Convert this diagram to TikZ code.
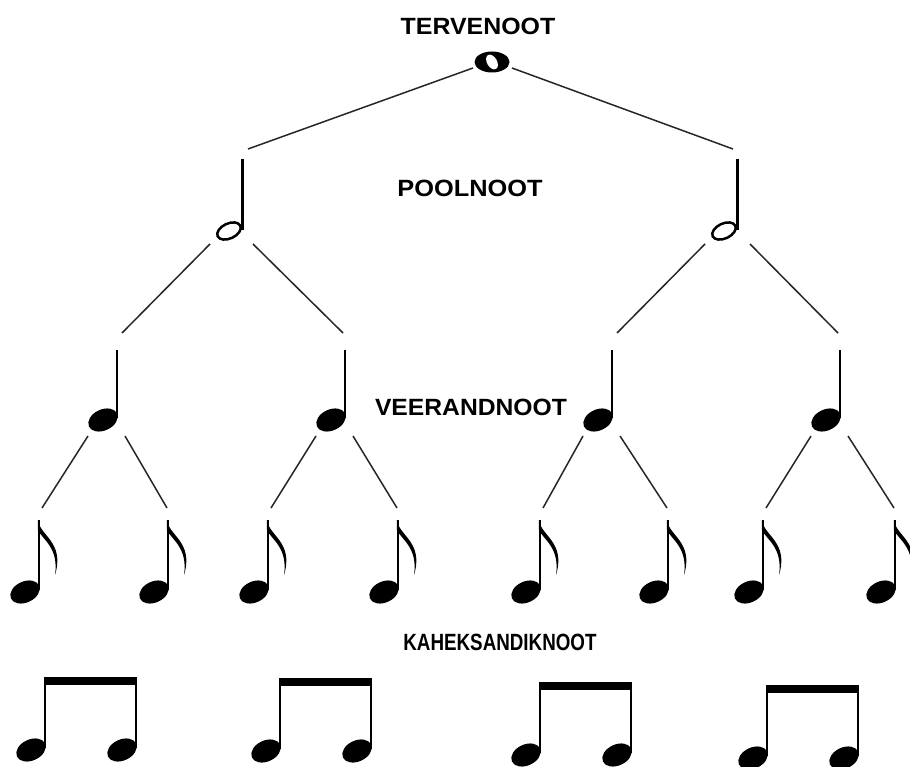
\documentclass[tikz,border=0pt]{standalone}
\usepackage{fontspec}
\setmainfont{Liberation Sans}
\tikzset{
  conn/.style={line width=1.5pt, draw=black!85},
  notestem/.style={line width=2.6pt},
  lbl/.style={anchor=base, inner sep=0pt, font=\fontsize{23.5}{26}\selectfont\bfseries, text=black},
  pics/qnote/.style={code={
     \fill[rotate=25] (0,0) ellipse [x radius=15.5, y radius=10.5];
     \draw[notestem] (13.8,-2) -- (13.8,-70);
  }},
  pics/enote/.style={code={
     \fill[rotate=25] (0,0) ellipse [x radius=15.5, y radius=10.5];
     \draw[notestem] (13.8,-2) -- (13.8,-72);
     \fill (12.8,-72) .. controls (15,-56) and (40,-50) .. (30,-17)
                      .. controls (34,-44) and (18,-52) .. (12.8,-62) -- cycle;
  }},
  pics/hnote/.style={code={
     \draw[line width=2.5pt, rotate=25] (0,0) ellipse [x radius=12.5, y radius=7.5];
     \draw[line width=2.4pt] (13.5,-1) -- (13.5,-72);
  }},
  pics/wnote/.style={code={
     \fill (0,0) ellipse [x radius=17.5, y radius=10.5];
     \fill[white, rotate=30] (0,0) ellipse [x radius=5, y radius=8];
  }},
  pics/bpair/.style={code={
     \fill[rotate=25] (0,0) ellipse [x radius=15.5, y radius=10.5];
     \fill[shift={(91,0)}, rotate=25] (0,0) ellipse [x radius=15.5, y radius=10.5];
     \draw[notestem] (14,-2) -- (14,-70);
     \draw[notestem] (105,-2) -- (105,-70);
     \fill (12.7,-73) rectangle (106.3,-65);
  }},
}
\begin{document}
\begin{tikzpicture}[x=1pt,y=-1pt]
\useasboundingbox (0,0) rectangle (910,767);

% labels
\node[lbl] (tervenoot) at (478,35) {\scalebox{1.06}[1]{TERVENOOT}};
\node[lbl] (poolnoot) at (470,197) {\scalebox{1.08}[1]{POOLNOOT}};
\node[lbl] (veerandnoot) at (471,415) {\scalebox{1.05}[1]{VEERANDNOOT}};
\node[lbl] (kaheksandiknoot) at (500,650) {\scalebox{0.8}[1]{KAHEKSANDIKNOOT}};

% notes
\pic at (492,62) {wnote};
\pic at (229,231) {hnote};
\pic at (724,231) {hnote};
\pic at (103,420) {qnote};
\pic at (331,420) {qnote};
\pic at (598,420) {qnote};
\pic at (826,420) {qnote};
\foreach \x in {25,154,254,384,526,654,749,881} { \pic at (\x,592) {enote}; }
\pic at (31,750) {bpair};
\pic at (266,751) {bpair};
\pic at (526,755) {bpair};
\pic at (753,758) {bpair};

% connector ends
\coordinate (w-l) at (473,68);
\coordinate (w-r) at (512,68);
\coordinate (h1-t) at (248,149);
\coordinate (h2-t) at (733,149);
\coordinate (h1-l) at (210,244);
\coordinate (h1-r) at (253,244);
\coordinate (h2-l) at (705,244);
\coordinate (h2-r) at (750,244);
\coordinate (q1-t) at (122,333);
\coordinate (q2-t) at (343,333);
\coordinate (q3-t) at (617,333);
\coordinate (q4-t) at (838,333);
\coordinate (q1-l) at (88,436);
\coordinate (q1-r) at (125,436);
\coordinate (q2-l) at (316,436);
\coordinate (q2-r) at (353,436);
\coordinate (q3-l) at (583,436);
\coordinate (q3-r) at (620,436);
\coordinate (q4-l) at (811,436);
\coordinate (q4-r) at (848,436);
\coordinate (e1-t) at (42,508);
\coordinate (e2-t) at (167,508);
\coordinate (e3-t) at (271,508);
\coordinate (e4-t) at (397,508);
\coordinate (e5-t) at (543,508);
\coordinate (e6-t) at (667,508);
\coordinate (e7-t) at (766,508);
\coordinate (e8-t) at (894,508);

% connectors
\draw[conn] (w-l) -- (h1-t);
\draw[conn] (w-r) -- (h2-t);
\draw[conn] (h1-l) -- (q1-t);
\draw[conn] (h1-r) -- (q2-t);
\draw[conn] (h2-l) -- (q3-t);
\draw[conn] (h2-r) -- (q4-t);
\draw[conn] (q1-l) -- (e1-t);
\draw[conn] (q1-r) -- (e2-t);
\draw[conn] (q2-l) -- (e3-t);
\draw[conn] (q2-r) -- (e4-t);
\draw[conn] (q3-l) -- (e5-t);
\draw[conn] (q3-r) -- (e6-t);
\draw[conn] (q4-l) -- (e7-t);
\draw[conn] (q4-r) -- (e8-t);
\end{tikzpicture}
\end{document}
